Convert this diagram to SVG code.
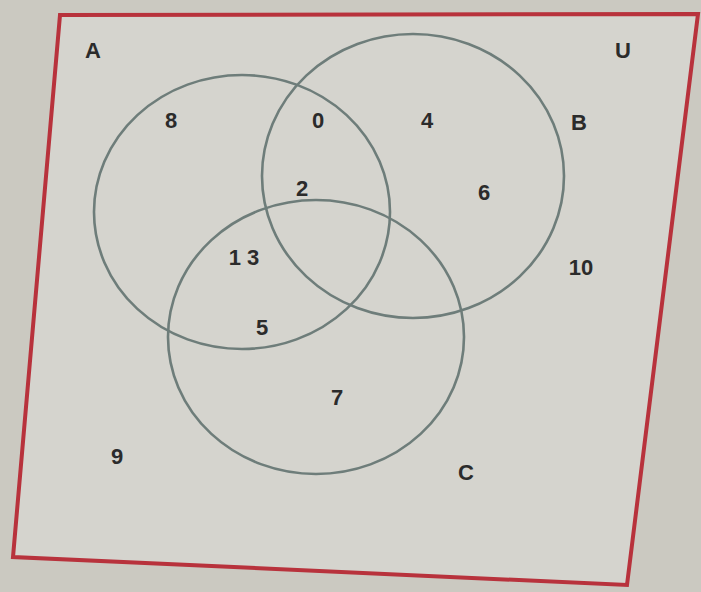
<svg xmlns="http://www.w3.org/2000/svg" width="701" height="592" viewBox="0 0 701 592">
<style>
.set{fill:none;stroke:#6e7d7a;stroke-width:2.6}
.t{font-family:"Liberation Sans",Arial,sans-serif;font-size:22px;font-weight:bold;fill:#2b2b2b;text-anchor:middle}
</style>
<rect width="701" height="592" fill="#cbc9c1"/>
<g id="universe">
<polygon points="60,15 698,14 627,585 13,557" fill="#d5d4ce" stroke="#b8323c" stroke-width="4" stroke-linejoin="miter"/>
<text class="t" x="93" y="58">A</text>
<text class="t" x="623" y="58">U</text>
</g>
<g id="setA"><ellipse class="set" cx="242" cy="212" rx="148" ry="137"/></g>
<g id="setB"><ellipse class="set" cx="413" cy="176" rx="151" ry="142"/><text class="t" x="579" y="130">B</text></g>
<g id="setC"><ellipse class="set" cx="316" cy="337" rx="148" ry="137"/><text class="t" x="466" y="480">C</text></g>
<g id="connectors"></g>
<g id="values">
<text class="t" x="171" y="128">8</text>
<text class="t" x="318" y="128">0</text>
<text class="t" x="427" y="128">4</text>
<text class="t" x="302" y="196">2</text>
<text class="t" x="484" y="200">6</text>
<text class="t" x="244" y="265">1 3</text>
<text class="t" x="581" y="275">10</text>
<text class="t" x="262" y="335">5</text>
<text class="t" x="337" y="405">7</text>
<text class="t" x="117" y="464">9</text>
</g>
</svg>
